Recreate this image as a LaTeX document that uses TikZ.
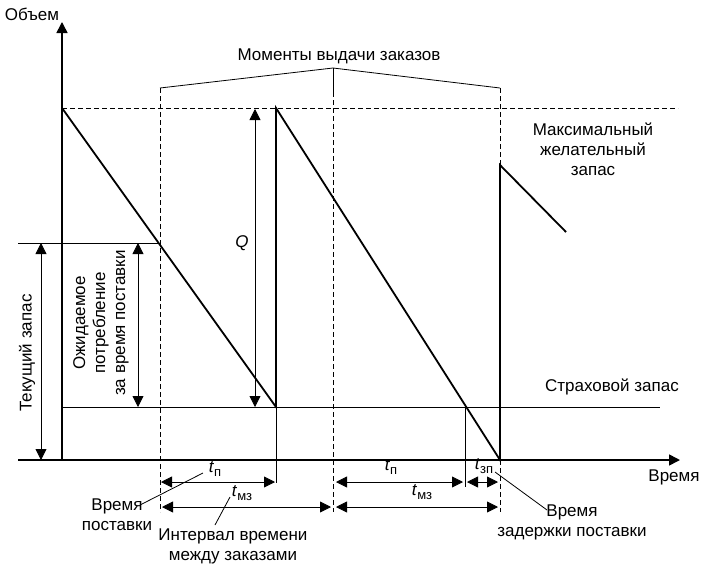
\documentclass[tikz,border=0pt]{standalone}
\usepackage{fontspec}
\setmainfont{Liberation Sans}
\usetikzlibrary{arrows.meta}
\newcommand{\tidx}[1]{\textit{t}\raisebox{-0.45ex}{\fontsize{13}{13}\selectfont #1}}

\begin{document}
\begin{tikzpicture}[x=1pt,y=-1pt,
    axis/.style={line width=1.6pt,-{Triangle[length=11pt,width=11pt]}},
    saw/.style={line width=1.8pt,line join=miter},
    thinline/.style={line width=0.8pt},
    guide/.style={line width=0.7pt,dash pattern=on 5pt off 3pt},
    dim/.style={line width=0.8pt,{Triangle[length=11pt,width=11pt]}-{Triangle[length=11pt,width=11pt]}},
    lbl/.style={font=\fontsize{17}{20}\selectfont,inner sep=1pt,align=center}]
    \useasboundingbox (0,0) rectangle (704,565);

    % axes
    \coordinate (O) at (62,460);
    \draw[axis] (O) -- (62,22);
    \draw[axis] (18,460) -- (680,460);
    \node[lbl] (vol)  at (32,14)  {Объем};
    \node[lbl] (time) at (674,477) {Время};

    % levels
    \draw[guide] (62,108) -- (678,108);
    \draw[thinline] (62,407) -- (660,407);
    \draw[thinline] (18,243) -- (160,243);

    % order moments
    \draw[thinline] (160,88) -- (333,68) -- (500,88);
    \draw[thinline] (333,68) -- (333,92);
    \draw[guide] (160,88) -- (160,512);
    \draw[guide] (333,92) -- (333,512);
    \draw[guide] (500,88) -- (500,165);
    \draw[guide] (500,460) -- (500,512);
    \node[lbl] (moments) at (339,56) {Моменты выдачи заказов};

    % stock curve
    \draw[saw] (62,108) -- (276,407) -- (276,108) -- (500,460) -- (500,165) -- (566,232);
    \draw[thinline] (276,407) -- (276,483);
    \draw[thinline] (465,407) -- (465,487);

    % vertical dimensions
    \draw[dim] (41,243) -- (41,460);
    \draw[dim] (138,243) -- (138,407);
    \draw[dim] (255,109) -- (255,407);
    \node[lbl,rotate=90] (cur)  at (27,353)  {Текущий запас};
    \node[lbl,rotate=90] (need) at (101,323) {Ожидаемое\\потребление\\за время поставки};
    \node[lbl,font=\fontsize{17}{20}\selectfont\itshape] (q) at (242,243) {Q};

    % time dimensions
    \draw[dim,shorten <=1pt,shorten >=1pt] (160,482) -- (276,482);
    \draw[dim,shorten <=3pt,shorten >=2pt] (333,482) -- (465,482);
    \draw[dim,shorten <=2pt,shorten >=2pt] (465,482) -- (500,482);
    \draw[dim,shorten <=2pt,shorten >=2pt] (160,507) -- (333,507);
    \draw[dim,shorten <=3pt,shorten >=2pt] (333,507) -- (500,507);
    \node[lbl] (tp1)  at (215,469) {\tidx{п}};
    \node[lbl] (tp2)  at (391,467) {\tidx{п}};
    \node[lbl] (tzp)  at (484,466) {\tidx{зп}};
    \node[lbl] (tmz1) at (242,493) {\tidx{мз}};
    \node[lbl] (tmz2) at (422,492) {\tidx{мз}};

    % captions
    \node[lbl] (maxst)  at (593,149) {Максимальный\\желательный\\запас};
    \node[lbl] (safety) at (612,387) {Страховой запас};
    \node[lbl] (deliv)  at (117,515) {Время\\поставки};
    \node[lbl] (interv) at (233,546) {Интервал времени\\между заказами};
    \node[lbl] (delay)  at (572,522) {Время\\задержки поставки};

    % leaders
    \coordinate (dl1) at (140,505);
    \coordinate (dl2) at (203,473);
    \coordinate (il1) at (215,525);
    \coordinate (il2) at (230,497);
    \coordinate (zl1) at (495,472);
    \coordinate (zl2) at (547,510);
    \draw[thinline] (dl1) -- (dl2);
    \draw[thinline] (il1) -- (il2);
    \draw[thinline] (zl1) -- (zl2);
\end{tikzpicture}
\end{document}
